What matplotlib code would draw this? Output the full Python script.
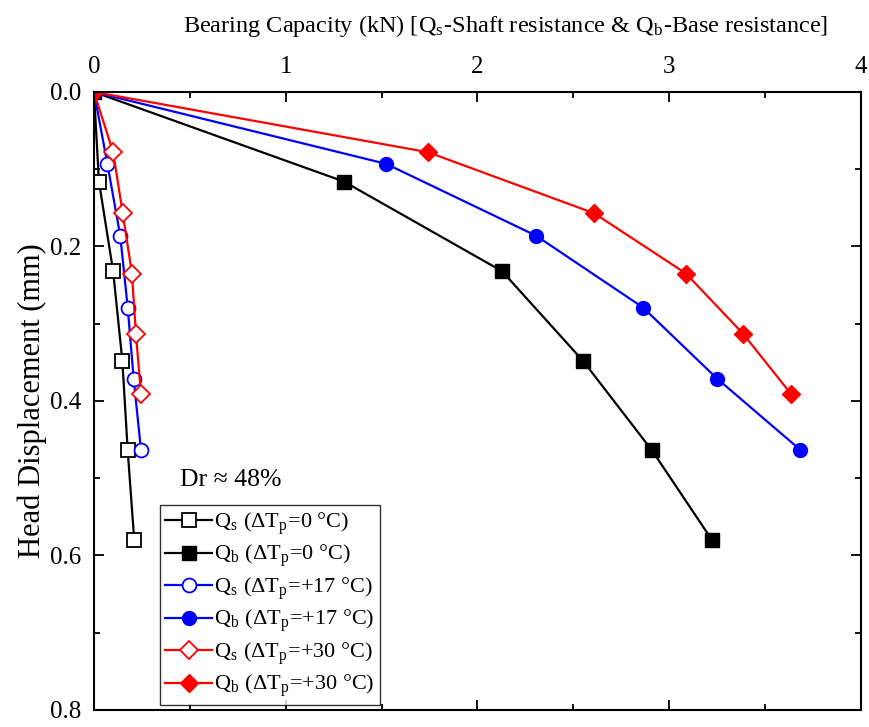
import matplotlib.pyplot as plt
from matplotlib.ticker import MultipleLocator

plt.rcParams['font.family'] = ['Liberation Serif', 'DejaVu Serif']
plt.rcParams['mathtext.fontset'] = 'stix'

# displacement (mm) and capacity (kN)
disp_0 = [0, 0.116, 0.232, 0.348, 0.464, 0.580]
qs_0 = [0, 0.026, 0.100, 0.148, 0.176, 0.210]
qb_0 = [0, 1.304, 2.128, 2.550, 2.910, 3.223]

disp_17 = [0, 0.093, 0.186, 0.279, 0.371, 0.463]
qs_17 = [0, 0.070, 0.137, 0.176, 0.207, 0.245]
qb_17 = [0, 1.523, 2.305, 2.863, 3.249, 3.682]

disp_30 = [0, 0.078, 0.157, 0.235, 0.313, 0.391]
qs_30 = [0, 0.100, 0.150, 0.198, 0.219, 0.245]
qb_30 = [0, 1.742, 2.608, 3.087, 3.385, 3.635]

fig = plt.figure(figsize=(8.7, 7.27), dpi=100)
ax = fig.add_axes([0.108, 0.0234, 0.8817, 0.8501])

lw = 1.6
ax.plot(qs_0, disp_0, color='black', lw=lw, marker='s', ms=9.5, mfc='white', mec='black', mew=1.3,
        label=r'Q$_\mathregular{s}$ ($\mathregular{\Delta}$T$_\mathregular{p}$=0 °C)')
ax.plot(qb_0, disp_0, color='black', lw=lw, marker='s', ms=9.5,
        label=r'Q$_\mathregular{b}$ ($\mathregular{\Delta}$T$_\mathregular{p}$=0 °C)')
ax.plot(qs_17, disp_17, color='blue', lw=lw, marker='o', ms=10, mfc='white', mec='blue', mew=1.3,
        label=r'Q$_\mathregular{s}$ ($\mathregular{\Delta}$T$_\mathregular{p}$=+17 °C)')
ax.plot(qb_17, disp_17, color='blue', lw=lw, marker='o', ms=10,
        label=r'Q$_\mathregular{b}$ ($\mathregular{\Delta}$T$_\mathregular{p}$=+17 °C)')
ax.plot(qs_30, disp_30, color='red', lw=lw, marker='D', ms=9, mfc='white', mec='red', mew=1.3,
        label=r'Q$_\mathregular{s}$ ($\mathregular{\Delta}$T$_\mathregular{p}$=+30 °C)')
ax.plot(qb_30, disp_30, color='red', lw=lw, marker='D', ms=9,
        label=r'Q$_\mathregular{b}$ ($\mathregular{\Delta}$T$_\mathregular{p}$=+30 °C)')

ax.set_xlim(0, 4)
ax.set_ylim(0.8, 0)
ax.xaxis.set_major_locator(MultipleLocator(1))
ax.xaxis.set_minor_locator(MultipleLocator(0.5))
ax.yaxis.set_major_locator(MultipleLocator(0.2))
ax.yaxis.set_minor_locator(MultipleLocator(0.1))
ax.yaxis.set_major_formatter(plt.FormatStrFormatter('%.1f'))
ax.xaxis.tick_top()
ax.xaxis.set_label_position('top')
ax.tick_params(which='both', direction='in', top=True, bottom=True, left=True, right=True,
               labelsize=18, width=1.3)
ax.tick_params(which='major', length=7)
ax.tick_params(which='minor', length=4)
ax.tick_params(axis='x', pad=10)
ax.tick_params(axis='y', pad=9)
for s in ax.spines.values():
    s.set_linewidth(1.5)

ax.set_xlabel(r'Bearing Capacity (kN) [Q$_\mathregular{s}$-Shaft resistance & Q$_\mathregular{b}$-Base resistance]',
              fontsize=17.5)
ax.xaxis.set_label_coords(0.536, 1.097)
ax.set_ylabel('Head Displacement (mm)', fontsize=22, labelpad=2)

ax.text(0.45, 0.502, 'Dr ≈ 48%', fontsize=18.5, va='center')
leg = ax.legend(loc='lower left', bbox_to_anchor=(0.086, 0.008), fontsize=16, frameon=True,
                fancybox=False, edgecolor='black', handlelength=2.1, handletextpad=0.1,
                labelspacing=0.27, borderpad=0.25, borderaxespad=0)
leg.get_frame().set_linewidth(1.0)

fig.savefig('out.png', dpi=100)
